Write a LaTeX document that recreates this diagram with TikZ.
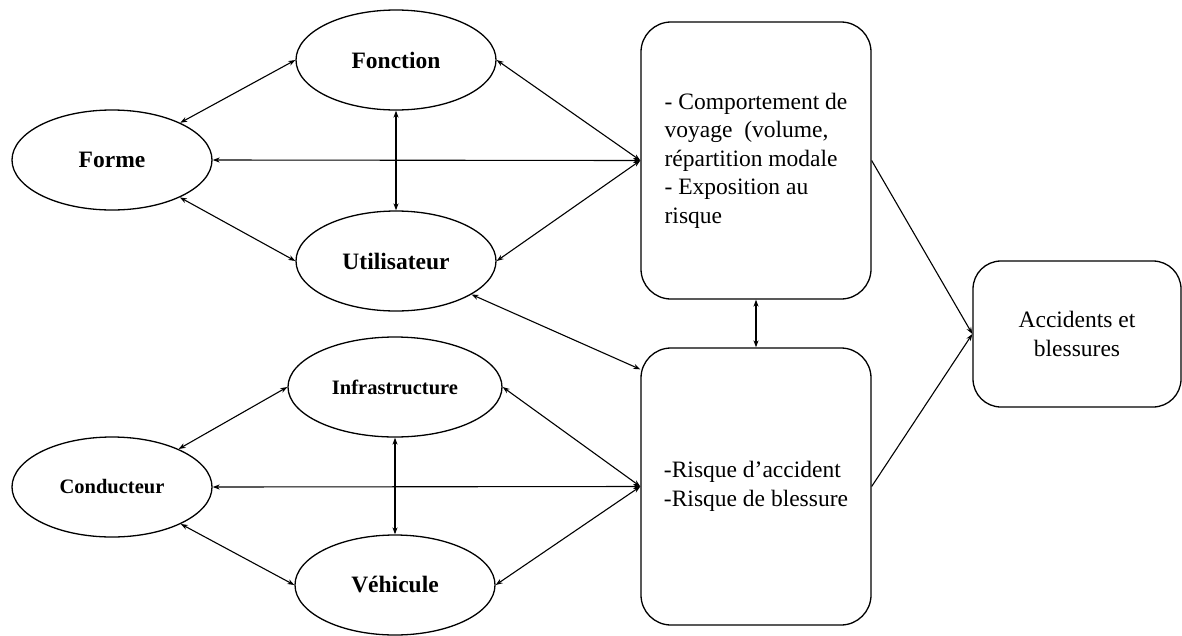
\documentclass[tikz,border=0pt]{standalone}
\usepackage{fontspec}
\setmainfont{Liberation Serif}
\usetikzlibrary{shapes.geometric,arrows.meta}

\tikzset{
	every factor/.style={ellipse, draw, line width=1.3pt, minimum width=200pt, minimum height=100pt, inner sep=0pt, font=\bfseries\fontsize{23.5}{28}\selectfont},
	factor infrastructure/.style={minimum width=214pt, font=\bfseries\fontsize{20.5}{24}\selectfont},
	factor conducteur/.style={font=\bfseries\fontsize{20.5}{24}\selectfont},
	every effect/.style={draw, line width=1.3pt, rounded corners=30pt, inner sep=0pt, font=\fontsize{23.5}{28.5}\selectfont},
	every link/.style={line width=1.1pt},
}

\begin{document}
\begin{tikzpicture}[x=1pt, y=-1pt, >={Stealth[length=7pt,width=5pt]}]

		\useasboundingbox (0,0) rectangle (1182,635);

		% draw nodes
			% upper ellipses
			\foreach \m/\l/\x/\y in {forme/Forme/112/160, fonction/Fonction/396/60, utilisateur/Utilisateur/396/261}
			\node [every factor/.try, factor \m/.try] (\m) at (\x,\y) {\l};

			% lower ellipses
			\foreach \m/\l/\x/\y in {conducteur/Conducteur/112/487, infrastructure/Infrastructure/395/387, vehicule/Véhicule/395/585}
			\node [every factor/.try, factor \m/.try] (\m) at (\x,\y) {\l};

			% boxes
			\node [every effect/.try, minimum width=230pt, minimum height=277pt, align=left] (comportement) at (756,160.5)
				{- Comportement de\\voyage~ (volume,\\répartition modale\\- Exposition au\\risque};
			\node [every effect/.try, minimum width=230pt, minimum height=277pt, align=left] (risque) at (756,486.5)
				{-Risque d’accident\\-Risque de blessure};
			\node [every effect/.try, rounded corners=28pt, minimum width=208pt, minimum height=146pt, align=center] (accidents) at (1077,334)
				{Accidents et\\blessures};

		% upper links
		\foreach \j in {fonction,utilisateur}
			\draw [every link/.try, <->] (forme) -- (\j.west);
		\draw [every link/.try, <->] (fonction.south) -- (utilisateur.north);
		\draw [every link/.try, <->] (forme.east) -- (comportement.west);
		\foreach \i in {fonction,utilisateur}
			\draw [every link/.try, <->] (\i.east) -- (comportement.west);

		% lower links
		\foreach \j in {infrastructure,vehicule}
			\draw [every link/.try, <->] (conducteur) -- (\j.west);
		\draw [every link/.try, <->] (infrastructure.south) -- (vehicule.north);
		\draw [every link/.try, <->] (conducteur.east) -- (risque.west);
		\foreach \i in {infrastructure,vehicule}
			\draw [every link/.try, <->] (\i.east) -- (risque.west);

		% between boxes
		\draw [every link/.try, <->] (utilisateur) -- ([yshift=-22pt]risque.north west);
		\draw [every link/.try, <->] (comportement.south) -- (risque.north);
		\foreach \i in {comportement,risque}
			\draw [every link/.try, ->] (\i.east) -- (accidents.west);

		\end{tikzpicture}
\end{document}
